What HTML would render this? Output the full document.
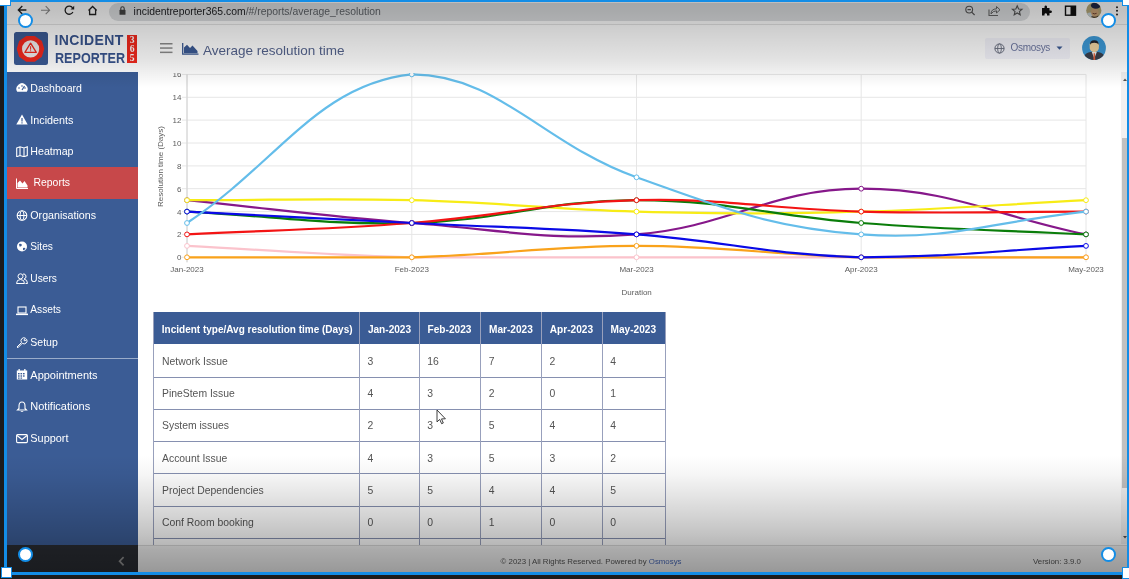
<!DOCTYPE html>
<html><head><meta charset="utf-8"><style>
*{margin:0;padding:0;box-sizing:border-box}
html,body{width:1129px;height:579px;overflow:hidden;background:#1c1c1c}
body{position:relative;font-family:"Liberation Sans",Arial,sans-serif}
.abs{position:absolute}
.sbt{position:absolute;color:#fff;font-size:10.7px;line-height:12px;white-space:nowrap}
.th{position:absolute;color:#fff;font-weight:bold;line-height:12px;white-space:nowrap}
.td{position:absolute;color:#555;font-size:10.4px;line-height:12px;white-space:nowrap}
</style></head><body>
<!-- screen -->
<div class="abs" style="left:7px;top:2px;width:1120px;height:570px;background:#fff;overflow:hidden"></div>
<!-- browser toolbar -->
<div class="abs" style="left:7px;top:2px;width:1120px;height:23px;background:#fdfdfd"></div>
<div class="abs" style="left:7px;top:24px;width:1120px;height:1px;background:#e2e2e2"></div>
<div class="abs" style="left:109px;top:2.5px;width:921px;height:18px;border-radius:9px;background:#dcdee0"></div>
<svg class="abs" style="left:0;top:0" width="1129" height="25" viewBox="0 0 1129 25">
 <g fill="none" stroke="#222" stroke-width="1.3">
  <path d="M26.4,10 H18.5 M22.3,6 L18.3,10 L22.3,14"/>
 </g>
 <g fill="none" stroke="#8a8a8a" stroke-width="1.1">
  <path d="M41,10.2 H49.5 M45.7,6.2 L49.6,10.2 L45.7,14.2"/>
 </g>
 <g fill="none" stroke="#222" stroke-width="1.3">
  <path d="M72.9,12 A4.1,4.1 0 1 1 72.6,7.8"/>
 </g>
 <path d="M74.2,5.8 L74.2,9.5 L70.5,9.5 Z" fill="#222"/>
 <path d="M88.5,10.5 L92.6,6.5 L96.7,10.5 M89.6,9.5 V14.5 H95.6 V9.5" fill="none" stroke="#222" stroke-width="1.3"/>
 <rect x="119.5" y="9.8" width="6" height="5" rx=".6" fill="#444"/>
 <path d="M120.8,10 V8.5 A1.7,1.7 0 0 1 124.2,8.5 V10" fill="none" stroke="#444" stroke-width="1.1"/>
 <circle cx="969.2" cy="9.6" r="3.4" fill="none" stroke="#555" stroke-width="1.1"/>
 <path d="M967.5,9.6 H970.9 M971.7,12.1 L974.6,15" stroke="#555" stroke-width="1.2" fill="none"/>
 <path d="M989,9.5 V15.5 H998" fill="none" stroke="#666" stroke-width="1.1"/>
 <path d="M991,14 Q991,9 996.5,8.8 V6.5 L1000,9.8 L996.5,13 V10.8 Q993,10.8 991,14 Z" fill="none" stroke="#666" stroke-width="1"/>
 <path d="M1017.2,5.8 L1018.6,9 L1022,9.3 L1019.4,11.5 L1020.2,14.8 L1017.2,13 L1014.2,14.8 L1015,11.5 L1012.4,9.3 L1015.8,9 Z" fill="none" stroke="#555" stroke-width="1.1"/>
 <path d="M1042,8 H1044.5 V6.5 A1.3,1.3 0 0 1 1047,6.5 V8 H1049.5 V10.5 H1051 A1.3,1.3 0 0 1 1051,13 H1049.5 V15.5 H1047 V14.3 A1.3,1.3 0 0 0 1044.5,14.3 V15.5 H1042 Z" fill="#111"/>
 <rect x="1065.5" y="6.2" width="10" height="9" fill="none" stroke="#111" stroke-width="1.4"/>
 <rect x="1070.5" y="6.2" width="5" height="9" fill="#111"/>
 <defs><clipPath id="tav"><circle cx="1093.8" cy="10.4" r="7.6"/></clipPath></defs>
 <circle cx="1093.8" cy="10.4" r="7.6" fill="#b3a677"/>
 <g clip-path="url(#tav)">
  <ellipse cx="1090" cy="15.5" rx="3.5" ry="3" fill="#c4d0d4"/>
  <ellipse cx="1094.8" cy="12.2" rx="3.8" ry="4.6" fill="#c9a276"/>
  <ellipse cx="1095.8" cy="5.6" rx="4.9" ry="3.2" fill="#1f2544"/>
  <path d="M1092.6,13.3 Q1094.6,14.4 1096.6,13.3" stroke="#6a4030" stroke-width="1" fill="none"/>
  <path d="M1091.5,16.5 Q1095,18.5 1098.5,16" stroke="#4a3a2a" stroke-width="1.2" fill="none"/>
 </g>
 <circle cx="1117" cy="7.2" r="1" fill="#222"/><circle cx="1117" cy="10.8" r="1" fill="#222"/><circle cx="1117" cy="14.4" r="1" fill="#222"/>
</svg>
<div class="abs" style="left:133.6px;top:4.7px;font-size:10.4px;line-height:13px;white-space:nowrap;color:#202124"><span>incidentreporter365.com</span><span style="color:#5f6368">/#/reports/average_resolution</span></div>

<!-- page -->
<!-- chart area -->
<svg class="abs" style="left:0;top:0" width="1129" height="310" viewBox="0 0 1129 310">
<g stroke="#e6e6e6" stroke-width="1"><line x1="182.0" y1="257.3" x2="1086.0" y2="257.3"/><line x1="182.0" y1="234.4" x2="1086.0" y2="234.4"/><line x1="182.0" y1="211.6" x2="1086.0" y2="211.6"/><line x1="182.0" y1="188.7" x2="1086.0" y2="188.7"/><line x1="182.0" y1="165.9" x2="1086.0" y2="165.9"/><line x1="182.0" y1="143.0" x2="1086.0" y2="143.0"/><line x1="182.0" y1="120.1" x2="1086.0" y2="120.1"/><line x1="182.0" y1="97.3" x2="1086.0" y2="97.3"/><line x1="182.0" y1="74.4" x2="1086.0" y2="74.4"/><line x1="187.0" y1="74.4" x2="187.0" y2="262.3"/><line x1="411.8" y1="74.4" x2="411.8" y2="262.3"/><line x1="636.5" y1="74.4" x2="636.5" y2="262.3"/><line x1="861.2" y1="74.4" x2="861.2" y2="262.3"/><line x1="1086.0" y1="74.4" x2="1086.0" y2="262.3"/></g>
<line x1="187.0" y1="74.4" x2="187.0" y2="262.3" stroke="#d2d2d2" stroke-width="1"/>
<g font-family="Liberation Sans, sans-serif" font-size="8" fill="#5c5c5c"><text x="181.5" y="260.3" text-anchor="end">0</text><text x="181.5" y="237.4" text-anchor="end">2</text><text x="181.5" y="214.6" text-anchor="end">4</text><text x="181.5" y="191.7" text-anchor="end">6</text><text x="181.5" y="168.9" text-anchor="end">8</text><text x="181.5" y="146.0" text-anchor="end">10</text><text x="181.5" y="123.1" text-anchor="end">12</text><text x="181.5" y="100.3" text-anchor="end">14</text><text x="181.5" y="77.4" text-anchor="end">16</text><text x="187.0" y="271.6" text-anchor="middle">Jan-2023</text><text x="411.8" y="271.6" text-anchor="middle">Feb-2023</text><text x="636.5" y="271.6" text-anchor="middle">Mar-2023</text><text x="861.2" y="271.6" text-anchor="middle">Apr-2023</text><text x="1086.0" y="271.6" text-anchor="middle">May-2023</text><text x="636.7" y="294.5" text-anchor="middle">Duration</text><text transform="translate(162.6,166.5) rotate(-90)" text-anchor="middle">Resolution time (Days)</text></g>
<path d="M187.0,245.9C276.9,250.4 321.8,255.0 411.8,257.3C501.6,257.3 546.6,257.3 636.5,257.3C726.4,257.3 771.4,257.3 861.2,257.3C951.1,257.3 996.1,257.3 1086.0,257.3" fill="none" stroke="#fbc3cc" stroke-width="2.2"/>
<circle cx="187.0" cy="245.9" r="2.4" fill="#fff" stroke="#fbc3cc" stroke-width="1"/>
<circle cx="411.8" cy="257.3" r="2.4" fill="#fff" stroke="#fbc3cc" stroke-width="1"/>
<circle cx="636.5" cy="257.3" r="2.4" fill="#fff" stroke="#fbc3cc" stroke-width="1"/>
<circle cx="861.2" cy="257.3" r="2.4" fill="#fff" stroke="#fbc3cc" stroke-width="1"/>
<circle cx="1086.0" cy="257.3" r="2.4" fill="#fff" stroke="#fbc3cc" stroke-width="1"/>
<path d="M187.0,200.2C276.9,209.3 321.7,216.1 411.8,223.0C501.5,229.9 547.5,241.2 636.5,234.4C727.3,227.5 771.4,188.7 861.2,188.7C951.1,188.7 996.1,216.2 1086.0,234.4" fill="none" stroke="#86188a" stroke-width="2.2"/>
<circle cx="187.0" cy="200.2" r="2.4" fill="#fff" stroke="#86188a" stroke-width="1"/>
<circle cx="411.8" cy="223.0" r="2.4" fill="#fff" stroke="#86188a" stroke-width="1"/>
<circle cx="636.5" cy="234.4" r="2.4" fill="#fff" stroke="#86188a" stroke-width="1"/>
<circle cx="861.2" cy="188.7" r="2.4" fill="#fff" stroke="#86188a" stroke-width="1"/>
<circle cx="1086.0" cy="234.4" r="2.4" fill="#fff" stroke="#86188a" stroke-width="1"/>
<path d="M187.0,257.3C276.9,257.3 321.9,257.3 411.8,257.3C501.7,255.0 546.6,245.9 636.5,245.9C726.4,245.9 771.3,255.0 861.2,257.3C951.1,257.3 996.1,257.3 1086.0,257.3" fill="none" stroke="#f9a21b" stroke-width="2.2"/>
<circle cx="187.0" cy="257.3" r="2.4" fill="#fff" stroke="#f9a21b" stroke-width="1"/>
<circle cx="411.8" cy="257.3" r="2.4" fill="#fff" stroke="#f9a21b" stroke-width="1"/>
<circle cx="636.5" cy="245.9" r="2.4" fill="#fff" stroke="#f9a21b" stroke-width="1"/>
<circle cx="861.2" cy="257.3" r="2.4" fill="#fff" stroke="#f9a21b" stroke-width="1"/>
<circle cx="1086.0" cy="257.3" r="2.4" fill="#fff" stroke="#f9a21b" stroke-width="1"/>
<path d="M187.0,200.2C276.9,200.2 321.9,197.9 411.8,200.2C501.7,202.4 546.5,209.3 636.5,211.6C726.3,213.9 771.4,213.9 861.2,211.6C951.2,209.3 996.1,204.7 1086.0,200.2" fill="none" stroke="#f7ec16" stroke-width="2.2"/>
<circle cx="187.0" cy="200.2" r="2.4" fill="#fff" stroke="#f7ec16" stroke-width="1"/>
<circle cx="411.8" cy="200.2" r="2.4" fill="#fff" stroke="#f7ec16" stroke-width="1"/>
<circle cx="636.5" cy="211.6" r="2.4" fill="#fff" stroke="#f7ec16" stroke-width="1"/>
<circle cx="861.2" cy="211.6" r="2.4" fill="#fff" stroke="#f7ec16" stroke-width="1"/>
<circle cx="1086.0" cy="200.2" r="2.4" fill="#fff" stroke="#f7ec16" stroke-width="1"/>
<path d="M187.0,211.6C276.9,216.2 322.0,225.3 411.8,223.0C501.8,220.7 546.6,200.2 636.5,200.2C726.4,200.2 771.2,216.1 861.2,223.0C951.0,229.9 996.1,229.9 1086.0,234.4" fill="none" stroke="#0a7d0a" stroke-width="2.2"/>
<circle cx="187.0" cy="211.6" r="2.4" fill="#fff" stroke="#0a7d0a" stroke-width="1"/>
<circle cx="411.8" cy="223.0" r="2.4" fill="#fff" stroke="#0a7d0a" stroke-width="1"/>
<circle cx="636.5" cy="200.2" r="2.4" fill="#fff" stroke="#0a7d0a" stroke-width="1"/>
<circle cx="861.2" cy="223.0" r="2.4" fill="#fff" stroke="#0a7d0a" stroke-width="1"/>
<circle cx="1086.0" cy="234.4" r="2.4" fill="#fff" stroke="#0a7d0a" stroke-width="1"/>
<path d="M187.0,234.4C276.9,229.9 322.0,229.9 411.8,223.0C501.8,216.1 546.4,202.4 636.5,200.2C726.2,197.9 771.3,209.3 861.2,211.6C951.1,213.9 996.1,211.6 1086.0,211.6" fill="none" stroke="#f31414" stroke-width="2.2"/>
<circle cx="187.0" cy="234.4" r="2.4" fill="#fff" stroke="#f31414" stroke-width="1"/>
<circle cx="411.8" cy="223.0" r="2.4" fill="#fff" stroke="#f31414" stroke-width="1"/>
<circle cx="636.5" cy="200.2" r="2.4" fill="#fff" stroke="#f31414" stroke-width="1"/>
<circle cx="861.2" cy="211.6" r="2.4" fill="#fff" stroke="#f31414" stroke-width="1"/>
<circle cx="1086.0" cy="211.6" r="2.4" fill="#fff" stroke="#f31414" stroke-width="1"/>
<path d="M187.0,211.6C276.9,216.2 321.9,218.4 411.8,223.0C501.6,227.6 546.8,227.6 636.5,234.4C726.6,241.3 771.2,255.0 861.2,257.3C951.0,257.3 996.1,250.4 1086.0,245.9" fill="none" stroke="#0a0ae6" stroke-width="2.2"/>
<circle cx="187.0" cy="211.6" r="2.4" fill="#fff" stroke="#0a0ae6" stroke-width="1"/>
<circle cx="411.8" cy="223.0" r="2.4" fill="#fff" stroke="#0a0ae6" stroke-width="1"/>
<circle cx="636.5" cy="234.4" r="2.4" fill="#fff" stroke="#0a0ae6" stroke-width="1"/>
<circle cx="861.2" cy="257.3" r="2.4" fill="#fff" stroke="#0a0ae6" stroke-width="1"/>
<circle cx="1086.0" cy="245.9" r="2.4" fill="#fff" stroke="#0a0ae6" stroke-width="1"/>
<path d="M187.0,223.0C276.9,163.6 318.0,84.0 411.8,74.4C497.8,74.4 543.7,144.3 636.5,177.3C723.5,208.3 770.2,227.5 861.2,234.4C950.0,241.2 996.1,220.7 1086.0,211.6" fill="none" stroke="#64bdea" stroke-width="2.2"/>
<circle cx="187.0" cy="223.0" r="2.4" fill="#fff" stroke="#64bdea" stroke-width="1"/>
<circle cx="411.8" cy="74.4" r="2.4" fill="#fff" stroke="#64bdea" stroke-width="1"/>
<circle cx="636.5" cy="177.3" r="2.4" fill="#fff" stroke="#64bdea" stroke-width="1"/>
<circle cx="861.2" cy="234.4" r="2.4" fill="#fff" stroke="#64bdea" stroke-width="1"/>
<circle cx="1086.0" cy="211.6" r="2.4" fill="#fff" stroke="#64bdea" stroke-width="1"/>
</svg>
<!-- table -->
<div style="position:absolute;left:153.5px;top:312.1px;width:512.2px;height:32.3px;background:#3b5c95"></div>
<div class="th" style="left:161.8px;top:323.5px;font-size:10px">Incident type/Avg resolution time (Days)</div>
<div class="th" style="left:367.9px;top:323.5px;font-size:10.1px">Jan-2023</div>
<div class="th" style="left:427.6px;top:323.5px;font-size:10.1px">Feb-2023</div>
<div class="th" style="left:489.0px;top:323.5px;font-size:10.1px">Mar-2023</div>
<div class="th" style="left:549.8px;top:323.5px;font-size:10.1px">Apr-2023</div>
<div class="th" style="left:610.6px;top:323.5px;font-size:10.1px">May-2023</div>
<div class="td" style="left:162.0px;top:355.8px">Network Issue</div>
<div class="td" style="left:367.6px;top:355.8px">3</div>
<div class="td" style="left:427.3px;top:355.8px">16</div>
<div class="td" style="left:488.7px;top:355.8px">7</div>
<div class="td" style="left:549.5px;top:355.8px">2</div>
<div class="td" style="left:610.3px;top:355.8px">4</div>
<div style="position:absolute;left:153.5px;top:376.5px;width:512.2px;height:1px;background:#8690b0"></div>
<div class="td" style="left:162.0px;top:388.1px">PineStem Issue</div>
<div class="td" style="left:367.6px;top:388.1px">4</div>
<div class="td" style="left:427.3px;top:388.1px">3</div>
<div class="td" style="left:488.7px;top:388.1px">2</div>
<div class="td" style="left:549.5px;top:388.1px">0</div>
<div class="td" style="left:610.3px;top:388.1px">1</div>
<div style="position:absolute;left:153.5px;top:408.8px;width:512.2px;height:1px;background:#8690b0"></div>
<div class="td" style="left:162.0px;top:420.4px">System issues</div>
<div class="td" style="left:367.6px;top:420.4px">2</div>
<div class="td" style="left:427.3px;top:420.4px">3</div>
<div class="td" style="left:488.7px;top:420.4px">5</div>
<div class="td" style="left:549.5px;top:420.4px">4</div>
<div class="td" style="left:610.3px;top:420.4px">4</div>
<div style="position:absolute;left:153.5px;top:441.1px;width:512.2px;height:1px;background:#8690b0"></div>
<div class="td" style="left:162.0px;top:452.7px">Account Issue</div>
<div class="td" style="left:367.6px;top:452.7px">4</div>
<div class="td" style="left:427.3px;top:452.7px">3</div>
<div class="td" style="left:488.7px;top:452.7px">5</div>
<div class="td" style="left:549.5px;top:452.7px">3</div>
<div class="td" style="left:610.3px;top:452.7px">2</div>
<div style="position:absolute;left:153.5px;top:473.4px;width:512.2px;height:1px;background:#8690b0"></div>
<div class="td" style="left:162.0px;top:485.0px">Project Dependencies</div>
<div class="td" style="left:367.6px;top:485.0px">5</div>
<div class="td" style="left:427.3px;top:485.0px">5</div>
<div class="td" style="left:488.7px;top:485.0px">4</div>
<div class="td" style="left:549.5px;top:485.0px">4</div>
<div class="td" style="left:610.3px;top:485.0px">5</div>
<div style="position:absolute;left:153.5px;top:505.7px;width:512.2px;height:1px;background:#8690b0"></div>
<div class="td" style="left:162.0px;top:517.3px">Conf Room booking</div>
<div class="td" style="left:367.6px;top:517.3px">0</div>
<div class="td" style="left:427.3px;top:517.3px">0</div>
<div class="td" style="left:488.7px;top:517.3px">1</div>
<div class="td" style="left:549.5px;top:517.3px">0</div>
<div class="td" style="left:610.3px;top:517.3px">0</div>
<div style="position:absolute;left:153.5px;top:538.0px;width:512.2px;height:1px;background:#8690b0"></div>
<div class="td" style="left:162.0px;top:549.6px">Others</div>
<div class="td" style="left:367.6px;top:549.6px">5</div>
<div class="td" style="left:427.3px;top:549.6px">3</div>
<div class="td" style="left:488.7px;top:549.6px">2</div>
<div class="td" style="left:549.5px;top:549.6px">6</div>
<div class="td" style="left:610.3px;top:549.6px">2</div>
<div style="position:absolute;left:153.5px;top:570.3px;width:512.2px;height:1px;background:#8690b0"></div>
<div style="position:absolute;left:153.0px;top:312.1px;width:1px;height:258.4px;background:#98a0bc"></div>
<div style="position:absolute;left:359.1px;top:312.1px;width:1px;height:258.4px;background:#98a0bc"></div>
<div style="position:absolute;left:418.8px;top:312.1px;width:1px;height:258.4px;background:#98a0bc"></div>
<div style="position:absolute;left:480.2px;top:312.1px;width:1px;height:258.4px;background:#98a0bc"></div>
<div style="position:absolute;left:541.0px;top:312.1px;width:1px;height:258.4px;background:#98a0bc"></div>
<div style="position:absolute;left:601.8px;top:312.1px;width:1px;height:258.4px;background:#98a0bc"></div>
<div style="position:absolute;left:665.2px;top:312.1px;width:1px;height:258.4px;background:#98a0bc"></div>
<!-- page header (covers chart) -->
<div class="abs" style="left:7px;top:25px;width:1120px;height:47.5px;background:#fff"></div>
<!-- scrollbar -->
<div class="abs" style="left:1120.5px;top:72px;width:6.5px;height:472px;background:#f1f1f1"></div>
<div class="abs" style="left:1121.5px;top:138px;width:5px;height:350px;background:#c1c1c1"></div>
<svg class="abs" style="left:1120px;top:72px" width="8" height="472"><path d="M3,9 L5,6.5 L7,9 Z" fill="#505050"/><path d="M3,464 L5,466.5 L7,464 Z" fill="#505050"/></svg>
<!-- logo -->
<div class="abs" style="left:14px;top:31.8px;width:33.5px;height:33.5px;border-radius:2.5px;background:#3b5a94"></div>
<svg class="abs" style="left:14px;top:31.8px" width="34" height="34" viewBox="0 0 34 34">
 <path d="M12.5,5 L20.5,5 L27,9.5 L29.2,16.9 L27,24.3 L20.5,28.8 L12.5,28.8 L6,24.3 L3.8,16.9 L6,9.5 Z" fill="#f2291d" stroke="#f2291d" stroke-width="2" stroke-linejoin="round"/>
 <circle cx="16.6" cy="16.9" r="8.6" fill="#f2eeee"/>
 <path d="M16.6,11.2 L22.3,20.4 L10.9,20.4 Z" fill="none" stroke="#f2291d" stroke-width="1.3" stroke-linejoin="round"/>
 <rect x="16.1" y="14.2" width="1" height="3.5" fill="#f2291d"/><rect x="16.1" y="18.3" width="1" height="1" fill="#f2291d"/>
</svg>
<div class="abs" style="left:54.4px;top:33.2px;font-weight:bold;font-size:14px;line-height:15px;color:#38548e;letter-spacing:0.4px;white-space:nowrap">INCIDENT</div>
<div class="abs" style="left:54.6px;top:50.9px;font-weight:bold;font-size:14px;line-height:15px;color:#38548e;white-space:nowrap;transform:scaleX(0.9);transform-origin:0 0">REPORTER</div>
<div class="abs" style="left:127px;top:34.8px;width:10.3px;height:27.9px;background:#f2291d"></div>
<div class="abs" style="left:127px;top:35.3px;width:10.3px;font-family:'Liberation Serif',serif;font-weight:bold;font-size:9.6px;line-height:9px;color:#fff;text-align:center">3<br>6<br>5</div>
<!-- header -->
<svg class="abs" style="left:160px;top:43px" width="14" height="11"><g fill="#8a8a8a"><rect x="0" y="0" width="12.5" height="1.5"/><rect x="0" y="4.3" width="12.5" height="1.5"/><rect x="0" y="8.6" width="12.5" height="1.5"/></g></svg>
<svg class="abs" style="left:182px;top:43px" width="17" height="12" viewBox="0 0 17 12"><path d="M0.7,0 V11.2 H16.5" fill="none" stroke="#3b5a94" stroke-width="1.3"/><path d="M2,10.3 V4.5 L5,1.8 L8,5 L10.5,2.5 L15.5,8 V10.3 Z" fill="#3b5a94"/></svg>
<div class="abs" style="left:203px;top:42.9px;font-size:13.5px;line-height:16px;color:#55648e;white-space:nowrap">Average resolution time</div>
<div class="abs" style="left:985px;top:38px;width:85px;height:20.6px;border-radius:2px;background:#f4f4fb"></div>
<svg class="abs" style="left:993.5px;top:42.5px" width="12" height="12" viewBox="0 0 12 12"><circle cx="5.5" cy="5.5" r="4.6" fill="none" stroke="#6a6f80" stroke-width="1"/><ellipse cx="5.5" cy="5.5" rx="1.9" ry="4.6" fill="none" stroke="#6a6f80" stroke-width=".9"/><path d="M0.9,5.5 H10.1" stroke="#6a6f80" stroke-width=".9"/></svg>
<div class="abs" style="left:1010.5px;top:41.8px;font-size:10px;line-height:12px;color:#6c76a0;white-space:nowrap;letter-spacing:-0.3px">Osmosys</div>
<svg class="abs" style="left:1056px;top:46px" width="8" height="5"><path d="M0.5,0.5 L6.5,0.5 L3.5,3.8 Z" fill="#3b5a94"/></svg>
<svg class="abs" style="left:1081.5px;top:36.2px" width="24" height="24" viewBox="0 0 24 24">
 <defs><clipPath id="avc"><circle cx="12" cy="12" r="11.9"/></clipPath></defs>
 <circle cx="12" cy="12" r="11.9" fill="#3d9ad8"/>
 <g clip-path="url(#avc)">
  <path d="M1.5,26 L2.5,19.5 Q4,16.8 8.5,16 L16,16 Q20.5,16.8 22,19.5 L23,26 Z" fill="#3b404c"/>
  <path d="M9.8,16 L12.3,22.5 L14.8,16 Z" fill="#f4f4f4"/>
  <path d="M11.6,17.3 L13,17.3 L13.2,24 L11.4,24 Z" fill="#e4663f"/>
  <path d="M7.6,8.5 Q7.6,6 12.3,6 Q17,6 17,8.5 L16.8,12.5 Q16.3,15.5 12.3,16.3 Q8.2,15.5 7.8,12.5 Z" fill="#f6d7a3"/>
  <path d="M8,9 Q7.6,4.2 12.3,4.2 Q17,4.2 16.6,9 Q15.8,6.8 12.3,6.8 Q8.8,6.8 8,9 Z" fill="#26262e"/>
 </g>
</svg>
<!-- sidebar -->
<div class="abs" style="left:7px;top:71.7px;width:131px;height:473px;background:#3b5c95"></div>
<div class="abs" style="left:7px;top:166.8px;width:131px;height:32.2px;background:#c7484a"></div>
<div class="abs" style="left:7px;top:357.8px;width:131px;height:1px;background:#9aacca"></div>
<svg style="position:absolute;left:16.0px;top:82.4px" width="12" height="11" viewBox="0 0 12 11"><path d="M1.2,9.8 A5.6,5.6 0 1 1 10.8,9.8 Z" fill="#fff"/><path d="M6,8 L8.5,4" stroke="#3b5c95" stroke-width="1.2"/><circle cx="3" cy="6" r=".8" fill="#3b5c95"/><circle cx="6" cy="4" r=".8" fill="#3b5c95"/><circle cx="9" cy="6" r=".8" fill="#3b5c95"/></svg>
<div class="sbt" style="left:30.3px;top:81.9px;font-size:10.57px">Dashboard</div>
<svg style="position:absolute;left:16.0px;top:114.1px" width="12" height="11" viewBox="0 0 12 11"><path d="M6,0.5 L11.7,10.5 L0.3,10.5 Z" fill="#fff"/><rect x="5.4" y="4" width="1.2" height="3.5" fill="#3b5c95"/><rect x="5.4" y="8.3" width="1.2" height="1.2" fill="#3b5c95"/></svg>
<div class="sbt" style="left:30.3px;top:113.6px;font-size:10.77px">Incidents</div>
<svg style="position:absolute;left:16.0px;top:145.9px" width="12" height="11" viewBox="0 0 12 11"><path d="M0.7,2 L4,0.8 L8,2 L11.3,0.8 L11.3,9.5 L8,10.7 L4,9.5 L0.7,10.7 Z M4,0.8 L4,9.5 M8,2 L8,10.7" fill="none" stroke="#fff" stroke-width="1.1"/></svg>
<div class="sbt" style="left:30.3px;top:145.4px;font-size:10.67px">Heatmap</div>
<svg style="position:absolute;left:15.6px;top:177.7px" width="12" height="11" viewBox="0 0 12 11"><path d="M0.5,0.5 L0.5,10.5 L12,10.5" fill="none" stroke="#fff" stroke-width="1"/><path d="M1.5,9.5 L1.5,5 L4,2.5 L6.5,5.5 L8.5,3 L11.5,7.5 L11.5,9.5 Z" fill="#fff"/></svg>
<div class="sbt" style="left:33.5px;top:177.2px;font-size:10.43px">Reports</div>
<svg style="position:absolute;left:16.0px;top:209.5px" width="12" height="11" viewBox="0 0 12 11"><circle cx="6" cy="5.5" r="4.8" fill="none" stroke="#fff" stroke-width="1.1"/><ellipse cx="6" cy="5.5" rx="2" ry="4.8" fill="none" stroke="#fff" stroke-width="1"/><path d="M1.2,5.5 H10.8" stroke="#fff" stroke-width="1"/></svg>
<div class="sbt" style="left:30.3px;top:209.0px;font-size:10.66px">Organisations</div>
<svg style="position:absolute;left:16.0px;top:241.3px" width="12" height="11" viewBox="0 0 12 11"><circle cx="6" cy="5.5" r="5" fill="#fff"/><path d="M3,3 Q5,2 6,4 Q5,6 3.5,5.5 Z M7,7 Q9,6 9.5,8 Q8,9.5 7,9 Z" fill="#3b5c95"/></svg>
<div class="sbt" style="left:30.3px;top:240.8px;font-size:10.2px">Sites</div>
<svg style="position:absolute;left:16.0px;top:273.1px" width="12" height="11" viewBox="0 0 12 11"><circle cx="4.5" cy="3.3" r="2.5" fill="none" stroke="#fff" stroke-width="1"/><path d="M0.5,10.5 Q0.5,6.5 4.5,6.5 Q8.5,6.5 8.5,10.5 Z" fill="none" stroke="#fff" stroke-width="1"/><path d="M7,1 A2.5,2.5 0 0 1 8,6 Q11.5,6.5 11.5,10.5 H9.5" fill="none" stroke="#fff" stroke-width="1"/></svg>
<div class="sbt" style="left:30.3px;top:272.6px;font-size:10.2px">Users</div>
<svg style="position:absolute;left:16.0px;top:304.9px" width="12" height="11" viewBox="0 0 12 11"><rect x="2" y="2" width="8" height="6" fill="none" stroke="#fff" stroke-width="1.1"/><rect x="0" y="8.6" width="12" height="1.5" fill="#fff"/></svg>
<div class="sbt" style="left:30.3px;top:304.4px;font-size:10.2px">Assets</div>
<svg style="position:absolute;left:16.0px;top:336.7px" width="12" height="11" viewBox="0 0 12 11"><path d="M1,10 L5.5,5.5 A3,3 0 0 1 9.5,1.2 L7.8,3 L8.8,4 L10.6,2.3 A3,3 0 0 1 6.3,6.3 L1.8,10.8 Z" fill="none" stroke="#fff" stroke-width="1"/></svg>
<div class="sbt" style="left:30.3px;top:336.2px;font-size:10.54px">Setup</div>
<svg style="position:absolute;left:16.0px;top:369.2px" width="12" height="11" viewBox="0 0 12 11"><rect x="0.8" y="1.5" width="10.4" height="9" fill="#fff"/><rect x="2.5" y="0" width="1.3" height="2.5" fill="#fff"/><rect x="8.2" y="0" width="1.3" height="2.5" fill="#fff"/><g fill="#3b5c95"><rect x="2" y="4" width="1.6" height="1.4"/><rect x="4.5" y="4" width="1.6" height="1.4"/><rect x="7" y="4" width="1.6" height="1.4"/><rect x="2" y="6.3" width="1.6" height="1.4"/><rect x="4.5" y="6.3" width="1.6" height="1.4"/><rect x="7" y="6.3" width="1.6" height="1.4"/><rect x="2" y="8.5" width="1.6" height="1.2"/><rect x="4.5" y="8.5" width="1.6" height="1.2"/></g></svg>
<div class="sbt" style="left:30.3px;top:368.7px;font-size:11.0px">Appointments</div>
<svg style="position:absolute;left:16.0px;top:400.9px" width="12" height="11" viewBox="0 0 12 11"><path d="M6,1 Q9,1 9,5 L9,7.5 L10.5,9 L1.5,9 L3,7.5 L3,5 Q3,1 6,1 Z" fill="none" stroke="#fff" stroke-width="1.1"/><path d="M4.8,10 A1.3,1.3 0 0 0 7.2,10" fill="none" stroke="#fff" stroke-width="1"/></svg>
<div class="sbt" style="left:30.3px;top:400.4px;font-size:11.0px">Notifications</div>
<svg style="position:absolute;left:16.0px;top:432.6px" width="12" height="11" viewBox="0 0 12 11"><rect x="0.6" y="1.6" width="10.8" height="8" rx="1" fill="none" stroke="#fff" stroke-width="1.1"/><path d="M1,2.5 L6,6.5 L11,2.5" fill="none" stroke="#fff" stroke-width="1.1"/></svg>
<div class="sbt" style="left:30.3px;top:432.1px;font-size:10.91px">Support</div>
<div class="abs" style="left:7px;top:544.5px;width:131px;height:27.5px;background:#2a2d33"></div>
<svg class="abs" style="left:118px;top:556px" width="8" height="11"><path d="M5.6,1.2 L1.6,5.2 L5.6,9.3" fill="none" stroke="#8f8f8f" stroke-width="1.7"/></svg>
<!-- footer -->
<div class="abs" style="left:138px;top:544.5px;width:989px;height:27.5px;background:#f6f6f6;border-top:1px solid #dcdcdc"></div>
<div class="abs" style="left:500.6px;top:556.5px;font-size:7.85px;line-height:10px;color:#555;white-space:nowrap">© 2023 | All Rights Reserved. Powered by <span style="color:#4a6ab8">Osmosys</span></div>
<div class="abs" style="left:1033px;top:556.5px;font-size:7.85px;line-height:10px;color:#555;white-space:nowrap">Version: 3.9.0</div>
<!-- cursor -->
<svg class="abs" style="left:436.2px;top:408.7px" width="12" height="16" viewBox="0 0 12 16"><path d="M1,1 L1,12.9 L3.7,10.4 L5.6,14.7 L7.3,14 L5.5,9.9 L9.4,9.8 Z" fill="#fff" stroke="#2a2a2a" stroke-width="0.9" stroke-linejoin="round"/></svg>
<!-- overlays -->
<div class="abs" style="left:0;top:0;width:1129px;height:90px;background:linear-gradient(to bottom,rgba(0,0,0,.25) 0px,rgba(0,0,0,.24) 10px,rgba(0,0,0,.2) 25px,rgba(0,0,0,.11) 60px,rgba(0,0,0,.055) 74px,rgba(0,0,0,0) 88px)"></div>
<div class="abs" style="left:0;top:455px;width:1129px;height:124px;background:linear-gradient(to bottom,rgba(0,0,0,0) 0px,rgba(0,0,0,.04) 20px,rgba(0,0,0,.10) 40px,rgba(0,0,0,.17) 60px,rgba(0,0,0,.24) 80px,rgba(0,0,0,.28) 89px,rgba(0,0,0,.31) 95px,rgba(0,0,0,.38) 117px)"></div>
<!-- frame -->
<div class="abs" style="left:0;top:0;width:4px;height:579px;background:#1c1c1c"></div>
<div class="abs" style="left:0;top:575px;width:1129px;height:4px;background:#1c1c1c"></div>
<div class="abs" style="left:4px;top:0;width:1125px;height:2px;background:#138de6"></div>
<div class="abs" style="left:4px;top:0;width:3px;height:575px;background:#138de6"></div>
<div class="abs" style="left:1127px;top:0;width:2px;height:575px;background:#138de6"></div>
<div class="abs" style="left:4px;top:572px;width:1125px;height:3px;background:#138de6"></div>
<div class="abs" style="left:0;top:0;width:11px;height:6px;background:#fff;border:1px solid #138de6;border-top:0;border-left:0"></div>
<div class="abs" style="left:1122px;top:0;width:7px;height:6px;background:#fff;border:1px solid #138de6;border-top:0;border-right:0"></div>
<div class="abs" style="left:0.5px;top:567px;width:11px;height:11px;background:#fff;border:1px solid #138de6"></div>
<div class="abs" style="left:1122px;top:567px;width:8px;height:12px;background:#fff;border:1px solid #138de6;border-right:0"></div>
<div class="abs" style="left:17.7px;top:12.7px;width:15px;height:15px;border-radius:50%;background:#fff;border:2px solid #138de6"></div>
<div class="abs" style="left:1101.4px;top:12.7px;width:15px;height:15px;border-radius:50%;background:#fff;border:2px solid #138de6"></div>
<div class="abs" style="left:17.7px;top:546.6px;width:15px;height:15px;border-radius:50%;background:#fff;border:2px solid #138de6"></div>
<div class="abs" style="left:1101.4px;top:546.6px;width:15px;height:15px;border-radius:50%;background:#fff;border:2px solid #138de6"></div>
</body></html>
